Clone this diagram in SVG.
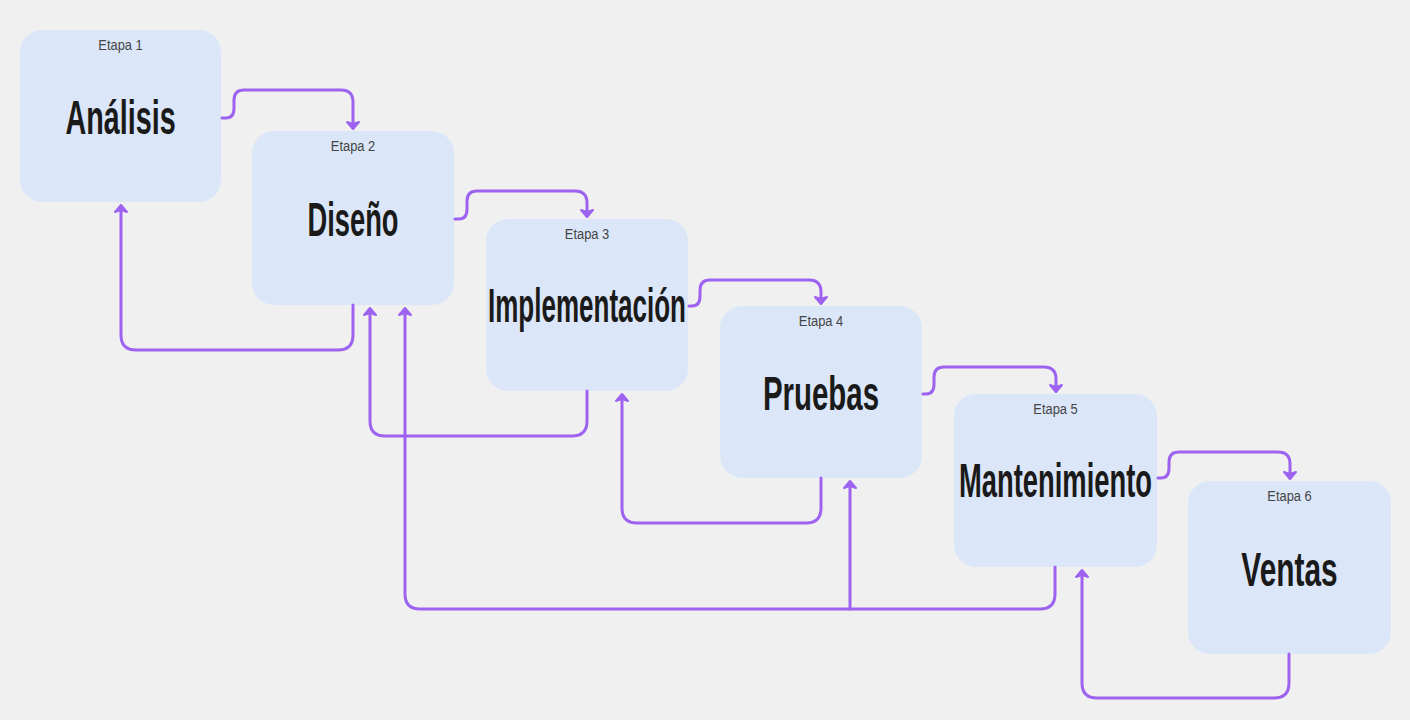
<svg xmlns="http://www.w3.org/2000/svg" width="1410" height="720" viewBox="0 0 1410 720">
<style>
.node rect{fill:#dbe7f8;}
.stage{font-family:"Liberation Sans",Arial,sans-serif;font-size:15px;fill:#454545;text-anchor:middle;}
.label{font-family:"Liberation Sans",Arial,sans-serif;font-size:48px;font-weight:bold;fill:#1a1a1a;text-anchor:middle;}
.conn path{fill:none;stroke:#9d63f0;stroke-width:3;stroke-linecap:round;stroke-linejoin:round;}
</style>
<defs>
<marker id="arr" viewBox="-10 -8 12 16" refX="-1" refY="0" markerWidth="12" markerHeight="16" orient="auto" markerUnits="userSpaceOnUse">
<path d="M-7,-6 L0,0 L-7,6 L-5,0 Z" fill="#9d63f0" stroke="#9d63f0" stroke-width="2" stroke-linejoin="round"/>
</marker>
</defs>
<rect width="1410" height="720" fill="#f0f0f0"/>
<g id="n1" class="node"><rect x="20" y="30" width="201" height="172" rx="22"/><text class="stage" transform="translate(120.5,50) scale(0.86,1)">Etapa 1</text><text class="label" transform="translate(120.5,134) scale(0.599,1)">Análisis</text></g>
<g id="n2" class="node"><rect x="252" y="131" width="202" height="174" rx="22"/><text class="stage" transform="translate(353,151) scale(0.86,1)">Etapa 2</text><text class="label" transform="translate(353,236) scale(0.569,1)">Diseño</text></g>
<g id="n3" class="node"><rect x="486" y="219" width="202" height="172" rx="22"/><text class="stage" transform="translate(587,239) scale(0.86,1)">Etapa 3</text><text class="label" transform="translate(587,322) scale(0.542,1)">Implementación</text></g>
<g id="n4" class="node"><rect x="720" y="306" width="202" height="172" rx="22"/><text class="stage" transform="translate(821,326) scale(0.86,1)">Etapa 4</text><text class="label" transform="translate(821,410) scale(0.613,1)">Pruebas</text></g>
<g id="n5" class="node"><rect x="954" y="394" width="203" height="173" rx="22"/><text class="stage" transform="translate(1055.5,414) scale(0.86,1)">Etapa 5</text><text class="label" transform="translate(1055.5,497) scale(0.570,1)">Mantenimiento</text></g>
<g id="n6" class="node"><rect x="1188" y="481" width="203" height="173" rx="22"/><text class="stage" transform="translate(1289.5,501) scale(0.86,1)">Etapa 6</text><text class="label" transform="translate(1289.5,586) scale(0.622,1)">Ventas</text></g>
<g id="connectors" class="conn">
<path marker-end="url(#arr)" d="M222,118 H226 Q234,118 234,108 V100 Q234,90 244,90 H341 Q353,90 353,102 V128"/>
<path marker-end="url(#arr)" d="M455,219 H459 Q467,219 467,209 V201 Q467,191 477,191 H575 Q587,191 587,203 V216"/>
<path marker-end="url(#arr)" d="M689,306 H692 Q700,306 700,296 V290 Q700,280 710,280 H809 Q821,280 821,292 V303"/>
<path marker-end="url(#arr)" d="M923,394 H926 Q934,394 934,384 V377 Q934,367 944,367 H1044 Q1056,367 1056,379 V391"/>
<path marker-end="url(#arr)" d="M1158,478 H1161 Q1169,478 1169,468 V462 Q1169,452 1179,452 H1278 Q1290,452 1290,464 V478"/>
<path marker-end="url(#arr)" d="M353,305 V335 Q353,350 338,350 H136 Q121,350 121,335 V206"/>
<path marker-end="url(#arr)" d="M587,391 V421 Q587,436 572,436 H385 Q370,436 370,421 V309"/>
<path marker-end="url(#arr)" d="M1055,567 V594 Q1055,609 1040,609 H420 Q405,609 405,594 V309"/>
<path marker-end="url(#arr)" d="M850,609 V482"/>
<path marker-end="url(#arr)" d="M821,478 V508 Q821,523 806,523 H637 Q622,523 622,508 V395"/>
<path marker-end="url(#arr)" d="M1289,654 V683 Q1289,698 1274,698 H1097 Q1082,698 1082,683 V571"/>
</g>
</svg>
